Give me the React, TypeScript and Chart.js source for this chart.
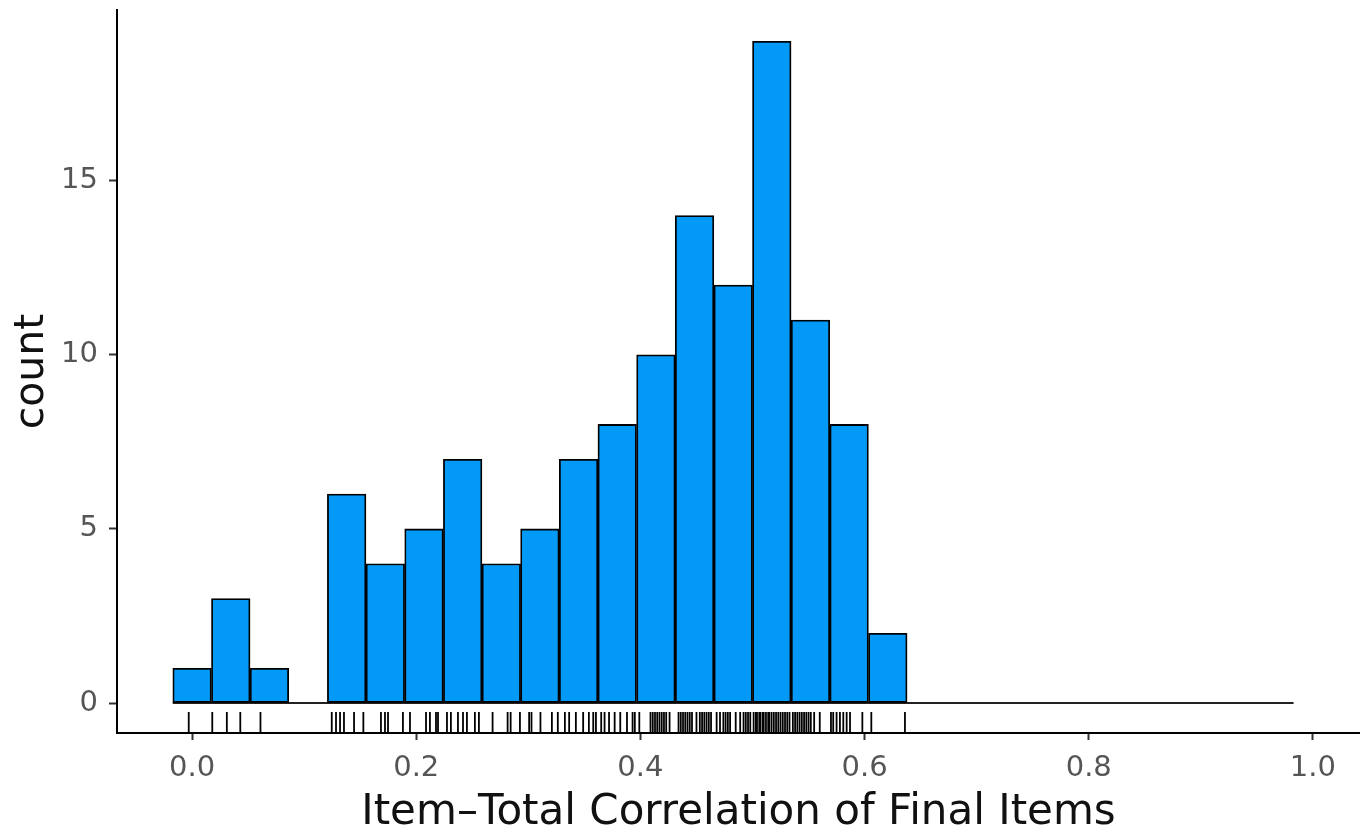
import React, { useEffect, useRef } from "react";
import { Chart, registerables } from "chart.js";

Chart.register(...registerables);

// Histogram bins (centres) and counts
const binCenters = [
  0.0, 0.0345, 0.069, 0.1034, 0.1379, 0.1724, 0.2069, 0.2414, 0.2759, 0.3103,
  0.3448, 0.3793, 0.4138, 0.4483, 0.4828, 0.5172, 0.5517, 0.5862, 0.6207, 0.6552,
  0.6897, 0.7241, 0.7586, 0.7931, 0.8276, 0.8621, 0.8966, 0.931, 0.9655,
];
const counts = [
  1, 3, 1, 0, 6, 4, 5, 7, 4, 5, 7, 8, 10, 14, 12, 19, 11, 8, 2, 0, 0, 0, 0, 0, 0,
  0, 0, 0, 0,
];

// Rug: individual item-total correlations
const rugValues = [
  -0.003,
  0.018, 0.031, 0.043,
  0.061,
  0.1246, 0.1284, 0.132, 0.1355, 0.1445, 0.1528,
  0.1685, 0.1721, 0.1748, 0.1881,
  0.1944, 0.2087, 0.2122, 0.2176, 0.2194,
  0.2274, 0.2309, 0.2372, 0.2417, 0.2452, 0.2523, 0.2559,
  0.2681, 0.2815, 0.2842, 0.2925,
  0.3007, 0.3028, 0.3108, 0.321, 0.3263,
  0.3326, 0.3364, 0.3424, 0.3489, 0.354, 0.3579, 0.3603,
  0.365, 0.368, 0.372, 0.377, 0.382, 0.388, 0.393, 0.395,
  0.399, 0.409, 0.411, 0.413, 0.415, 0.417, 0.419, 0.421, 0.423, 0.426,
  0.434, 0.436, 0.438, 0.44, 0.442, 0.444, 0.446, 0.45, 0.453, 0.455, 0.457, 0.459, 0.461, 0.463,
  0.468, 0.471, 0.474, 0.476, 0.478, 0.48, 0.485, 0.489, 0.492, 0.494, 0.496, 0.498,
  0.501, 0.503, 0.504, 0.506, 0.507, 0.509, 0.51, 0.512, 0.514, 0.515, 0.517, 0.519, 0.521, 0.523, 0.525, 0.527, 0.529, 0.531, 0.533,
  0.536, 0.538, 0.54, 0.542, 0.544, 0.546, 0.548, 0.55, 0.552, 0.555, 0.56,
  0.57, 0.572, 0.575, 0.578, 0.581, 0.584, 0.587, 0.598,
  0.606, 0.636,
];

const xTicks = [0, 0.2, 0.4, 0.6, 0.8, 1.0];
const yTicks = [0, 5, 10, 15];
const xTitle = "Item–Total Correlation of Final Items";
const yTitle = "count";

const FONT = "'DejaVu Sans', sans-serif";

export default function App() {
  const ref = useRef<HTMLCanvasElement>(null);

  useEffect(() => {
    if (!ref.current) return;
    const half = (binCenters[1] - binCenters[0]) / 2;

    const rugPlugin = {
      id: "rug",
      afterDatasetsDraw(chart: any) {
        const { ctx, chartArea, scales } = chart;
        ctx.save();
        ctx.strokeStyle = "#000";
        ctx.lineWidth = 1.8;
        for (const v of rugValues) {
          const x = scales.x.getPixelForValue(v);
          ctx.beginPath();
          ctx.moveTo(x, chartArea.bottom - 1);
          ctx.lineTo(x, chartArea.bottom - 21);
          ctx.stroke();
        }
        ctx.restore();
      },
    };

    const chart = new Chart(ref.current, {
      type: "bar",
      data: {
        datasets: [
          {
            type: "line",
            data: [
              { x: binCenters[0] - half, y: 0 },
              { x: binCenters[binCenters.length - 1] + half, y: 0 },
            ],
            borderColor: "#222",
            borderWidth: 2,
            pointRadius: 0,
            order: 2,
          } as any,
          {
            type: "bar",
            data: binCenters.map((x, i) => ({ x, y: counts[i] })),
            backgroundColor: "#0399F6",
            borderColor: "#000",
            borderWidth: 1.8,
            borderSkipped: false,
            barPercentage: 1,
            categoryPercentage: 1,
            order: 1,
          } as any,
        ],
      },
      options: {
        animation: false,
        responsive: false,
        layout: { padding: { top: 10, right: 0, left: 0, bottom: 0 } },
        plugins: { legend: { display: false }, tooltip: { enabled: false } },
        scales: {
          x: {
            type: "linear",
            min: -0.067,
            max: 1.042,
            offset: false,
            grid: {
              drawOnChartArea: false,
              drawTicks: true,
              tickLength: 7,
              tickWidth: 2,
              tickColor: "#333",
              offset: false,
            },
            border: { display: true, color: "#000", width: 2 },
            ticks: {
              color: "#555",
              font: { family: FONT, size: 29 },
              padding: 11,
              maxRotation: 0,
              autoSkip: false,
              callback: (v: any) => Number(v).toFixed(1),
            },
            afterBuildTicks: (s: any) => {
              s.ticks = xTicks.map((value) => ({ value }));
            },
            afterFit: (s: any) => {
              s.height = 100;
              s.paddingLeft = 0;
              s.paddingRight = 0;
            },
            title: {
              display: true,
              text: xTitle,
              color: "#111",
              font: { family: FONT, size: 42 },
              padding: { top: 0, bottom: -5 },
            },
          },
          y: {
            type: "linear",
            min: -0.86,
            max: 19.9,
            grid: {
              drawOnChartArea: false,
              drawTicks: true,
              tickLength: 8,
              tickWidth: 2,
              tickColor: "#333",
            },
            border: { display: true, color: "#000", width: 2 },
            ticks: {
              color: "#555",
              font: { family: FONT, size: 29 },
              padding: 11,
              callback: (v: any) => String(v),
            },
            afterBuildTicks: (s: any) => {
              s.ticks = yTicks.map((value) => ({ value }));
            },
            afterFit: (s: any) => {
              s.width = 117;
              s.paddingTop = 0;
              s.paddingBottom = 0;
            },
            title: {
              display: true,
              text: yTitle,
              color: "#111",
              font: { family: FONT, size: 41 },
              padding: { top: 8, bottom: 0 },
            },
          },
        },
      } as any,
      plugins: [rugPlugin],
    });
    return () => chart.destroy();
  }, []);

  return (
    <div
      style={{
        position: "fixed",
        left: 0,
        top: 0,
        width: 1360,
        height: 833,
        background: "#fff",
      }}
    >
      <canvas
        ref={ref}
        width={1360}
        height={833}
        style={{ width: 1360, height: 833, display: "block" }}
      />
    </div>
  );
}
